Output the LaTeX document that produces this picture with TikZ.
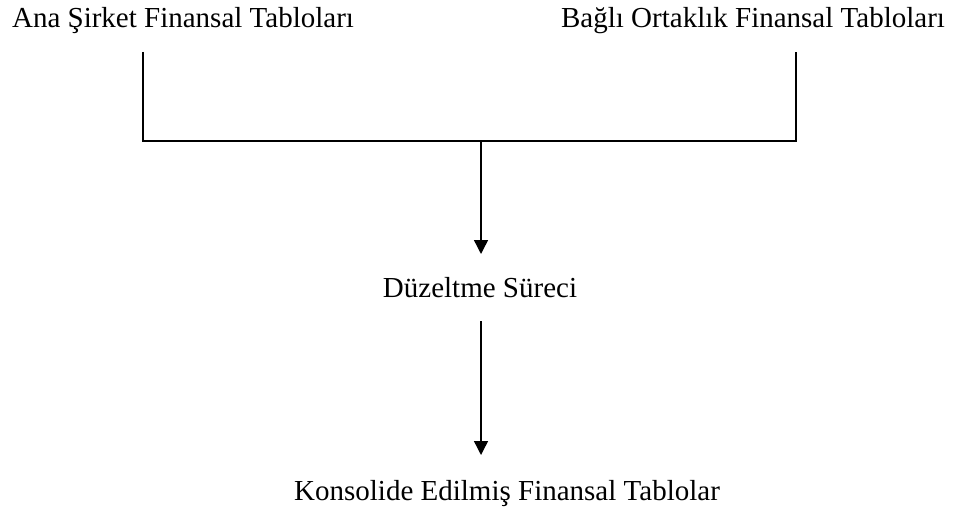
\documentclass[tikz,border=0pt]{standalone}
\usepackage{fontspec}
\setmainfont{Liberation Serif}
\usetikzlibrary{arrows.meta}

\begin{document}
\begin{tikzpicture}[x=1pt, y=-1pt, line width=1.4pt,
    baslik/.style={anchor=base, inner sep=0pt, font=\fontsize{29}{34}\selectfont},
    ok/.style={-{Triangle[width=14pt, length=14pt]}}]
    \useasboundingbox (0,0) rectangle (957,508);
    % basliklar
    \node[baslik] (ana) at (183,28) {Ana Şirket Finansal Tabloları};
    \node[baslik] (bagli) at (753,28) {Bağlı Ortaklık Finansal Tabloları};
    \node[baslik] (duzeltme) at (480,297) {Düzeltme Süreci};
    \node[baslik] (konsolide) at (507,500) {Konsolide Edilmiş Finansal Tablolar};
    % baglanti noktalari
    \coordinate (sol) at (143,52);
    \coordinate (sag) at (796,52);
    \coordinate (orta) at (481,141);
    \coordinate (ok1) at (481,254);
    \coordinate (bas2) at (481,321);
    \coordinate (ok2) at (481,455);
    \draw (sol) |- (sag |- orta) -- (sag);
    \draw[ok] (orta) -- (ok1);
    \draw[ok] (bas2) -- (ok2);
\end{tikzpicture}
\end{document}
